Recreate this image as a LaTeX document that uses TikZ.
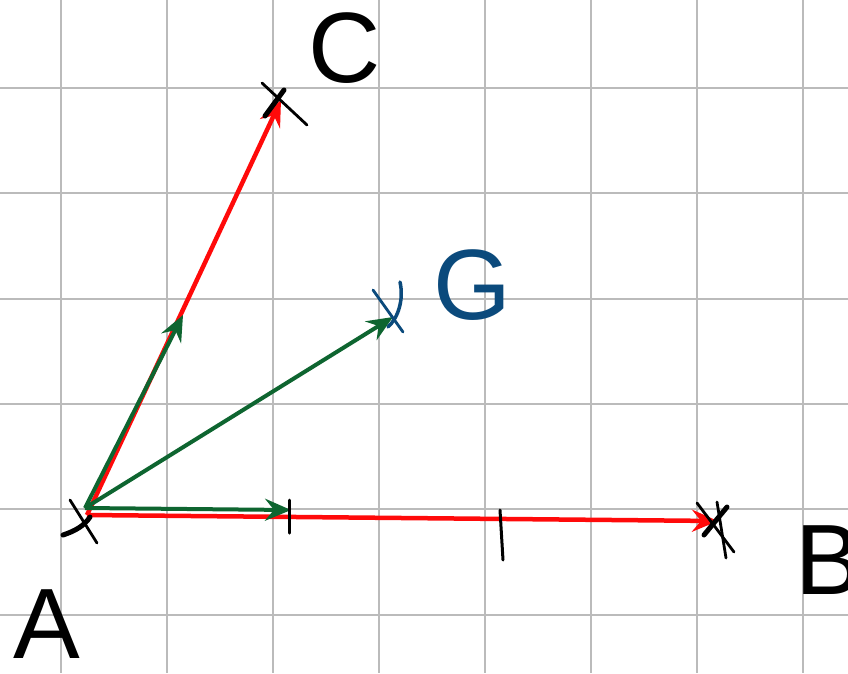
\documentclass[tikz,border=0pt]{standalone}
\usepackage{fontspec}
\setmainfont{Liberation Sans}
\usetikzlibrary{arrows.meta}
\definecolor{gridgrey}{HTML}{BBBBBB}
\definecolor{vecred}{HTML}{FF0A0A}
\definecolor{vecgreen}{HTML}{0E6530}
\definecolor{gblue}{HTML}{0B4A7C}
\tikzset{
  gridline/.style={draw=gridgrey, line width=2.2pt},
  redvec/.style={draw=vecred, line width=4.5pt, -{Stealth[length=26pt,width=22pt,inset=9pt]}},
  greenvec/.style={draw=vecgreen, line width=4pt, -{Stealth[length=26pt,width=22pt,inset=9pt]}},
  crossmark/.style={draw=black, line width=2.8pt, line cap=round},
  thickmark/.style={draw=black, line width=5pt, line cap=round},
  ticklabel/.style={draw=black, line width=3pt, line cap=round},
  letter/.style={inner sep=0pt, font=\fontsize{100}{100}\selectfont}
}
\begin{document}
\begin{tikzpicture}[x=1pt,y=-1pt]
\useasboundingbox (0,0) rectangle (848,673);
\fill[white] (0,0) rectangle (848,673);
\clip (0,0) rectangle (848,673);
% grid
\foreach \gx in {61,167,273,379,485,591,697,803} \draw[gridline] (\gx,0) -- (\gx,673);
\foreach \gy in {88,193,299,404,509,615} \draw[gridline] (0,\gy) -- (848,\gy);
% points
\coordinate (A) at (87,515);
\coordinate (Ag) at (85,508);
\coordinate (B) at (718,521);
\coordinate (C) at (281,100);
\coordinate (G) at (393,317);
\coordinate (M) at (183,315);
\coordinate (T) at (291,510);
% vectors
\draw[redvec] (A) -- (C);
\draw[redvec] (A) -- (B);
\draw[greenvec] (Ag) -- (M);
\draw[greenvec] (Ag) -- (G);
\draw[greenvec] (Ag) -- (T);
% tick marks
\draw[ticklabel] (289,500) -- (289,533);
\draw[ticklabel] (500,510) -- (503,560);
% crosses
\draw[crossmark] (70,500) -- (97,543);
\draw[thickmark] (63,535) .. controls (75,531) and (84,526) .. (90,517);
\draw[crossmark] (262,83) -- (307,125);
\draw[thickmark] (265,116) -- (284,90);
\draw[crossmark] (697,503) -- (734,552);
\draw[thickmark] (727,507) -- (704,535);
\draw[crossmark] (717,502) -- (726,558);
\draw[draw=gblue, line width=2.8pt, line cap=round] (373,290) -- (403,332);
\draw[draw=gblue, line width=3.5pt, line cap=round] (400,282) .. controls (404,300) and (398,318) .. (388,327);
% labels
\node[letter, anchor=center] (labC) at (345,48) {C};
\node[letter, anchor=center, text=gblue] (labG) at (472,285) {G};
\node[letter, anchor=center] (labA) at (47,624) {A};
\node[letter, anchor=west] (labB) at (795,560) {B};
\end{tikzpicture}
\end{document}
